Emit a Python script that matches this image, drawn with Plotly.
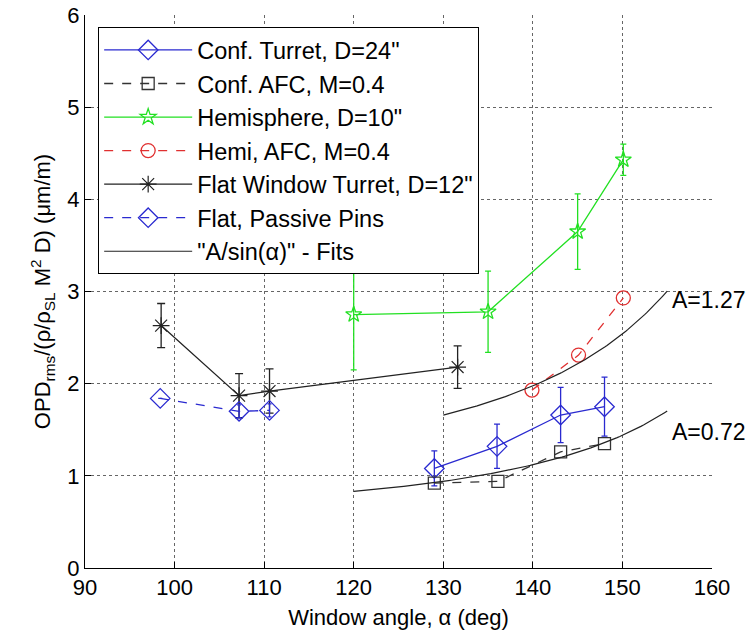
import numpy as np
import plotly.graph_objects as go

# ---- data ----
conf_turret_x = [129.0, 136.0, 143.1, 148.0]
conf_turret_y = [1.08, 1.32, 1.66, 1.75]
conf_turret_err = [0.19, 0.24, 0.30, 0.32]

conf_afc_x = [129.0, 136.1, 143.1, 148.0]
conf_afc_y = [0.92, 0.94, 1.26, 1.35]

hemi_x = [120.0, 135.0, 145.0, 150.1]
hemi_y = [2.75, 2.78, 3.65, 4.43]
hemi_err = [0.60, 0.44, 0.41, 0.17]

hemi_afc_x = [139.9, 145.1, 150.1]
hemi_afc_y = [1.93, 2.31, 2.93]

flat_x = [98.5, 107.2, 110.6, 131.6]
flat_y = [2.63, 1.87, 1.92, 2.18]
flat_err = [0.24, 0.24, 0.24, 0.23]

pins_x = [98.4, 107.2, 110.6]
pins_y = [1.84, 1.70, 1.71]
pins_err = [0.0, 0.07, 0.07]

fit_A = [1.27, 0.72]
fit_start = [130.0, 120.0]
fit_end = [155.0, 155.0]
fit_labels = ["A=1.27", "A=0.72"]
fit_label_y = [2.91, 1.48]

x_ticks = [90, 100, 110, 120, 130, 140, 150, 160]
y_ticks = [0, 1, 2, 3, 4, 5, 6]

FONT = "Liberation Sans, Arial, Helvetica, sans-serif"
BLUE = "#2a2ad0"
GREEN = "#22e022"
RED = "#e03030"

fig = go.Figure()

fig.add_trace(go.Scatter(
    x=conf_turret_x, y=conf_turret_y, mode="lines+markers",
    name="Conf. Turret, D=24\"",
    line=dict(color=BLUE, width=1.3),
    marker=dict(symbol="diamond-open", size=15, color=BLUE, line=dict(width=1.3)),
    error_y=dict(type="data", array=conf_turret_err, color=BLUE, thickness=1.3, width=3),
))
fig.add_trace(go.Scatter(
    x=conf_afc_x, y=conf_afc_y, mode="lines+markers",
    name="Conf. AFC, M=0.4",
    line=dict(color="#333333", width=1.3, dash="dash"),
    marker=dict(symbol="square-open", size=12, color="#333333", line=dict(width=1.3)),
))
fig.add_trace(go.Scatter(
    x=hemi_x, y=hemi_y, mode="lines+markers",
    name="Hemisphere, D=10\"",
    line=dict(color=GREEN, width=1.3),
    marker=dict(symbol="star-open", size=12, color=GREEN, line=dict(width=1.3)),
    error_y=dict(type="data", array=hemi_err, color=GREEN, thickness=1.3, width=3),
))
fig.add_trace(go.Scatter(
    x=hemi_afc_x, y=hemi_afc_y, mode="lines+markers",
    name="Hemi, AFC, M=0.4",
    line=dict(color=RED, width=1.3, dash="dash"),
    marker=dict(symbol="circle-open", size=14, color=RED, line=dict(width=1.3)),
))
fig.add_trace(go.Scatter(
    x=flat_x, y=flat_y, mode="lines+markers",
    name="Flat Window Turret, D=12\"",
    line=dict(color="#222222", width=1.3),
    marker=dict(symbol="asterisk-open", size=14, color="#222222", line=dict(width=1.2, color="#222222")),
    error_y=dict(type="data", array=flat_err, color="#222222", thickness=1.3, width=4),
))
fig.add_trace(go.Scatter(
    x=pins_x, y=pins_y, mode="lines+markers",
    name="Flat, Passive Pins",
    line=dict(color=BLUE, width=1.3, dash="dash"),
    marker=dict(symbol="diamond-open", size=15, color=BLUE, line=dict(width=1.3)),
    error_y=dict(type="data", array=pins_err, color=BLUE, thickness=1.3, width=2),
))

for i, (A, a0, a1) in enumerate(zip(fit_A, fit_start, fit_end)):
    xs = np.linspace(a0, a1, 120)
    ys = A / np.sin(np.radians(xs))
    fig.add_trace(go.Scatter(
        x=xs, y=ys, mode="lines",
        name="\"A/sin(α)\" - Fits",
        legendgroup="fits", showlegend=(i == 0),
        line=dict(color="#222222", width=1.2),
    ))
    fig.add_annotation(x=a1, y=fit_label_y[i], text=fit_labels[i], showarrow=False,
                       xanchor="left", yanchor="middle", xshift=3,
                       font=dict(size=23, color="black", family=FONT))

fig.update_layout(
    width=748, height=633,
    margin=dict(l=85, r=36, t=15, b=65),
    paper_bgcolor="white", plot_bgcolor="white",
    font=dict(family=FONT, size=22, color="black"),
    showlegend=True,
    legend=dict(
        x=0.021, y=0.978, xanchor="left", yanchor="top",
        bgcolor="white", bordercolor="black", borderwidth=1,
        font=dict(size=23.5, family=FONT, color="black"),
        itemwidth=88, tracegroupgap=0,
    ),
)
fig.update_xaxes(
    range=[90, 160], tickvals=x_ticks, ticktext=[str(t) for t in x_ticks],
    showline=True, linecolor="black", linewidth=1, mirror=False,
    ticks="inside", ticklen=6, tickcolor="black",
    showgrid=True, gridcolor="#666666", griddash="dot", gridwidth=1,
    zeroline=False, automargin=False,
    title=dict(text="Window angle, α (deg)", font=dict(size=22), standoff=10),
    tickfont=dict(size=22),
)
fig.update_yaxes(
    range=[0, 6], tickvals=y_ticks, ticktext=[str(t) for t in y_ticks],
    showline=True, linecolor="black", linewidth=1, mirror=False,
    ticks="inside", ticklen=6, tickcolor="black",
    showgrid=True, gridcolor="#666666", griddash="dot", gridwidth=1,
    zeroline=False, automargin=False,
    title=dict(text="OPD<sub>rms</sub>/(ρ/ρ<sub>SL</sub> M<sup>2</sup> D) (μm/m)", font=dict(size=22), standoff=10),
    tickfont=dict(size=22),
)

fig.write_html("out.html")
